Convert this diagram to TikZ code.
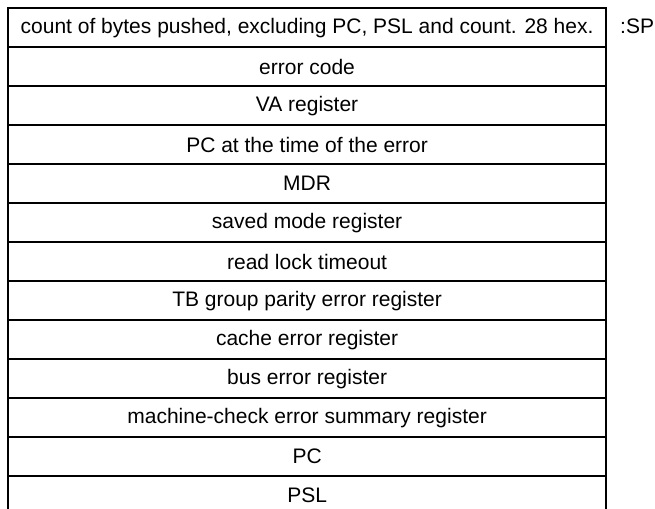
\documentclass[tikz,border=0pt]{standalone}
\usepackage{fontspec}
\setmainfont{Liberation Sans}
\begin{document}
\begin{tikzpicture}[x=1pt,y=-1pt,
  cell/.style={draw,line width=2.2pt,minimum width=598pt,minimum height=39pt,
    inner sep=0pt,anchor=north west,font=\fontsize{21}{24}\selectfont},
  lbl/.style={anchor=west,inner sep=0pt,font=\fontsize{21}{24}\selectfont}]
\useasboundingbox (0,0) rectangle (655,508);
\clip (0,0) rectangle (655,508);
\foreach \t [count=\i from 0] in {{count of bytes pushed, excluding PC, PSL and count. 28 hex.},
  error code, VA register, PC at the time of the error, MDR, saved mode register,
  read lock timeout, TB group parity error register, cache error register,
  bus error register, machine-check error summary register, PC, PSL}
  \node[cell] (r\i) at (7,{7+39*\i}) {\t};
\node[lbl] (sp) at (620,26) {:SP};
\end{tikzpicture}
\end{document}
